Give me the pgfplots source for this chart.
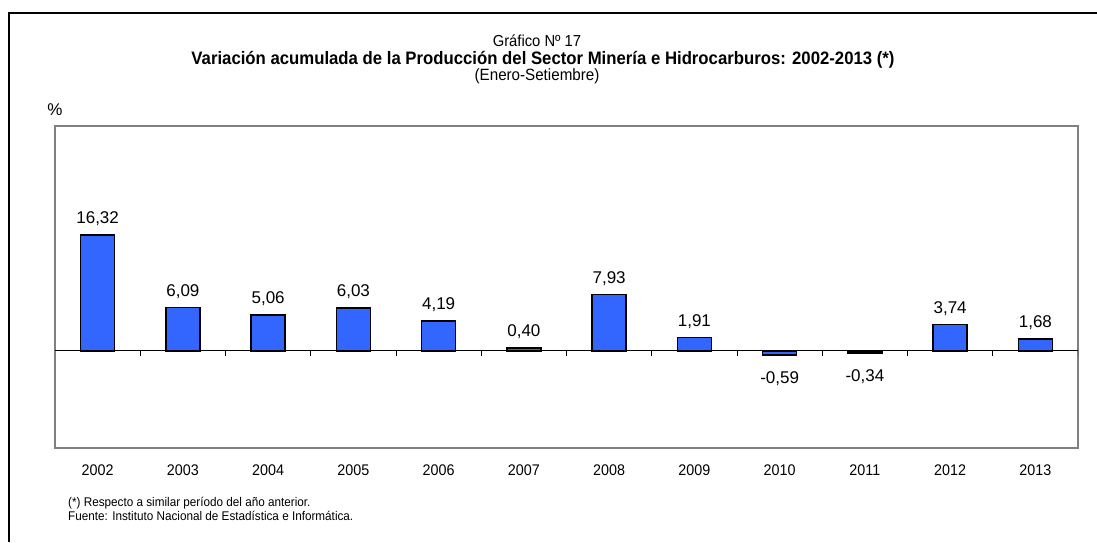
\documentclass[border=0pt]{standalone}
\usepackage{fontspec}
\setmainfont{Liberation Sans}
\newfontfamily\narrow[FakeStretch=0.93]{Liberation Sans}
\usepackage{pgfplots}
\pgfplotsset{compat=1.18}
\definecolor{barblue}{RGB}{51,102,255}
\begin{document}
\begin{tikzpicture}[x=1pt,y=1pt]
\useasboundingbox (-55,-94) rectangle (1042,448);
\draw[line width=2.5pt] (-46,-94) -- (-46,435) -- (1042,435);
\node[font=\narrow\fontsize{15.9}{19}\selectfont, inner sep=0pt] at (482,407.5) {Gráfico Nº 17};
\node[font=\narrow\bfseries\fontsize{18}{22}\selectfont, inner sep=0pt] at (488,388.5) {Variación acumulada de la Producción del Sector Minería e Hidrocarburos: 2002-2013 (*)};
\node[font=\narrow\fontsize{16.3}{19}\selectfont, inner sep=0pt] at (482,371.5) {(Enero-Setiembre)};
\node[font=\fontsize{17}{20}\selectfont] at (0,338) {\%};
\node[font=\narrow\fontsize{12.6}{15}\selectfont, anchor=west, inner sep=0pt] at (13,-55) {(*) Respecto a similar período del año anterior.};
\node[font=\narrow\fontsize{12.6}{15}\selectfont, anchor=west, inner sep=0pt] at (13,-68) {Fuente: Instituto Nacional de Estadística e Informática.};
\begin{axis}[
  scale only axis, width=1023pt, height=322pt,
  xmin=-0.5, xmax=11.5, ymin=-13.7, ymax=31.7,
  axis line style={draw=gray, line width=2pt},
  ytick=\empty,
  xtick={0,...,11},
  xticklabels={2002,2003,2004,2005,2006,2007,2008,2009,2010,2011,2012,2013},
  major tick length=0pt,
  x tick label style={font=\narrow\fontsize{15.4}{18}\selectfont, yshift=-13pt},
  /pgf/number format/assume math mode=true,
]
\draw[black, line width=0.8pt] (axis cs:-0.5,0) -- (axis cs:11.5,0);
\pgfplotsinvokeforeach{0.5,1.5,...,11.5}{\draw[black, line width=0.8pt] (axis cs:#1,0) -- ++(0pt,-5pt);}
\addplot[ybar, bar width=34pt, fill=barblue, draw=black, line width=1.5pt,
  nodes near coords={\pgfmathprintnumber[fixed,fixed zerofill,precision=2,use comma,assume math mode=true]{\pgfplotspointmeta}},
  every node near coord/.append style={font=\fontsize{17}{20}\selectfont, text=black, inner ysep=10.5pt, text depth=0pt, text height=17.5pt},
] coordinates {(0,16.32) (1,6.09) (2,5.06) (3,6.03) (4,4.19) (5,0.40) (6,7.93) (7,1.91) (8,-0.59) (9,-0.34) (10,3.74) (11,1.68)};
\end{axis}
\end{tikzpicture}
\end{document}
